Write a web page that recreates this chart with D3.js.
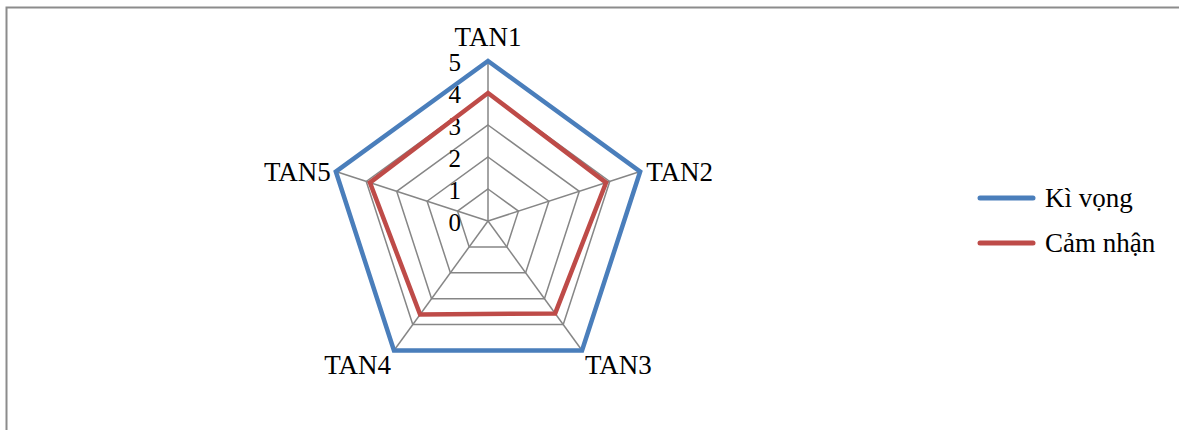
<!DOCTYPE html>
<html>
<head>
<meta charset="utf-8">
<script src="https://cdn.jsdelivr.net/npm/d3@7"></script>
<style>
  html, body { margin: 0; padding: 0; background: #fff; }
  svg { display: block; }
  text { font-family: "Liberation Serif", "Times New Roman", serif; fill: #000; }
</style>
</head>
<body>
<svg id="chart" width="1179" height="430"></svg>
<script>
// Radar chart: expected vs perceived scores for TAN1..TAN5
const categories = ["TAN1", "TAN2", "TAN3", "TAN4", "TAN5"];
const seriesNames = ["Kì vọng", "Cảm nhận"];
const kyVong = [5, 5, 5, 5, 5];
const camNhan = [4.0, 3.88, 3.57, 3.61, 3.88];
const tickValues = [0, 1, 2, 3, 4, 5];
const colors = ["#4A7EBB", "#BE4B48"];

const svg = d3.select("#chart");
const W = 1179, H = 430;

// outer frame
svg.append("rect")
  .attr("x", 6.5).attr("y", 7.5)
  .attr("width", W).attr("height", H)
  .attr("fill", "none").attr("stroke", "#8c8c8c").attr("stroke-width", 2);

const cx = 488, cy = 221;
const r = d3.scaleLinear().domain([0, 5]).range([0, 160]);
const angle = d3.scaleLinear().domain([0, categories.length]).range([0, 2 * Math.PI]);

const pt = (i, v) => [cx + r(v) * Math.sin(angle(i)), cy - r(v) * Math.cos(angle(i))];

const g = svg.append("g");

// grid rings
tickValues.filter(t => t > 0).forEach(t => {
  g.append("path")
    .attr("d", d3.line()(categories.map((c, i) => pt(i, t))) + "Z")
    .attr("fill", "none").attr("stroke", "#868686").attr("stroke-width", 1.5);
});

// spokes
categories.forEach((c, i) => {
  const [x, y] = pt(i, 5);
  g.append("line").attr("x1", cx).attr("y1", cy).attr("x2", x).attr("y2", y)
    .attr("stroke", "#868686").attr("stroke-width", 1.5);
});

// tick labels along the first axis
tickValues.forEach(t => {
  g.append("text")
    .attr("x", cx - 27).attr("y", cy - r(t) + 1)
    .attr("text-anchor", "end").attr("dominant-baseline", "central")
    .attr("font-size", 25)
    .text(t);
});

// series polygons
const lineGen = d3.line();
[kyVong, camNhan].forEach((vals, s) => {
  g.append("path")
    .attr("d", lineGen(vals.map((v, i) => pt(i, v))) + "Z")
    .attr("fill", "none").attr("stroke", colors[s])
    .attr("stroke-width", 4.5).attr("stroke-linejoin", "miter");
});

// category labels
const labelPos = [
  { dx: 0, dy: -24, anchor: "middle" },
  { dx: 6, dy: 0, anchor: "start" },
  { dx: 3, dy: 15, anchor: "start" },
  { dx: -3, dy: 15, anchor: "end" },
  { dx: -5, dy: 0, anchor: "end" }
];
categories.forEach((c, i) => {
  const [x, y] = pt(i, 5);
  const p = labelPos[i];
  g.append("text")
    .attr("x", x + p.dx).attr("y", y + p.dy)
    .attr("text-anchor", p.anchor).attr("dominant-baseline", "central")
    .attr("font-size", 27)
    .text(c);
});

// legend
const legend = svg.append("g");
seriesNames.forEach((name, s) => {
  const ly = 198 + s * 45;
  legend.append("line")
    .attr("x1", 980).attr("x2", 1033).attr("y1", ly).attr("y2", ly)
    .attr("stroke", colors[s]).attr("stroke-width", 5).attr("stroke-linecap", "round");
  legend.append("text")
    .attr("x", 1045).attr("y", ly)
    .attr("dominant-baseline", "central")
    .attr("font-size", 27)
    .text(name);
});
</script>
</body>
</html>
